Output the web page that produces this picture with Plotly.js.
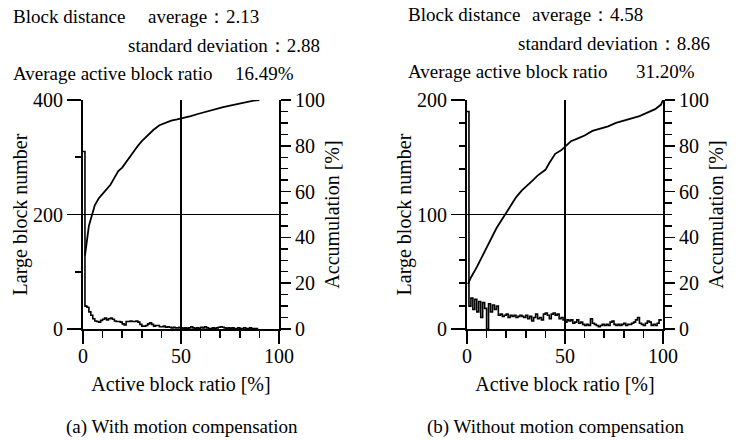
<!DOCTYPE html>
<html>
<head>
<meta charset="utf-8">
<script src="https://cdn.plot.ly/plotly-3.0.1.min.js"></script>
<style>html,body{margin:0;padding:0;background:#fff;}#chart{width:736px;height:440px;}</style>
</head>
<body>
<div id="chart"></div>
<script>
// ---------- data ----------
// (a) With motion compensation: histogram of large blocks per 1% bin of active block ratio
var binsA = [0,1,2,3,4,5,6,7,8,9,10,11,12,13,14,15,16,17,18,19,20,21,22,23,24,25,26,27,28,29,30,31,32,33,34,35,36,37,38,39,40,41,42,43,44,45,46,47,48,49,50,51,52,53,54,55,56,57,58,59,60,61,62,63,64,65,66,67,68,69,70,71,72,73,74,75,76,77,78,79,80,81,82,83,84,85,86,87,88,89];
var countA = [310,40,38,30,24,18,14,13,12,15,17,19,16,18,19,17,14,13,13,12,9,7,13,13,14,13,13,14,12,8,5,5,6,9,11,8,5,6,6,4,4,5,3,4,3,2,3,2,2,3,2,1,2,1,2,4,2,1,2,1,3,2,4,2,1,1,2,1,2,3,4,3,2,1,2,1,2,1,1,2,1,1,2,1,1,2,1,1,1,0];
// (a) accumulation curve [%]
var cumXA = [1,2,3,4,5,6,7,8,10,12,14,16,18,20,22,24,26,28,30,33,36,39,42,45,48,51,55,59,63,67,71,75,79,83,87,90];
var cumYA = [32,40,45,48,51,54,55.5,57,59,61,63,66,69,70.5,73,75.5,77.5,80,82,84.5,87,89,90,91,91.5,92,93,94,95,96,96.8,97.5,98.3,99,99.7,100];

// (b) Without motion compensation
var binsB = [0,1,2,3,4,5,6,7,8,9,10,11,12,13,14,15,16,17,18,19,20,21,22,23,24,25,26,27,28,29,30,31,32,33,34,35,36,37,38,39,40,41,42,43,44,45,46,47,48,49,50,51,52,53,54,55,56,57,58,59,60,61,62,63,64,65,66,67,68,69,70,71,72,73,74,75,76,77,78,79,80,81,82,83,84,85,86,87,88,89,90,91,92,93,94,95,96,97,98,99];
var countB = [190,20,27,17,26,15,24,10,23,18,0,22,15,21,17,20,12,13,11,12,13,10,12,11,12,10,11,12,11,10,12,9,11,7,10,13,9,10,8,13,14,12,9,13,14,12,13,9,10,8,6,8,7,8,5,6,8,5,6,4,3,4,3,9,5,4,3,2,3,4,3,4,3,6,7,4,3,4,3,4,5,3,4,4,5,6,8,10,5,4,3,5,7,6,3,4,3,5,8,7];
var cumXB = [0.5,2,5,8,10,13,15,18,20,22,25,28,30,33,36,40,42,45,48,50,53,56,60,64,68,72,76,80,84,88,92,96,99,100];
var cumYB = [19.6,22.5,27,32,35.5,40.5,44,48,50.8,53.5,57.5,60.5,62,64.5,67,69.5,72.5,76.5,78,79.5,82,83,84.5,86.5,87.5,88.5,90,91,92,93,94.5,96,98,100];

// axis tick labels
var xTicks = [0,50,100];
var yTicksA = [0,200,400];
var yTicksB = [0,100,200];
var accTicks = [0,20,40,60,80,100];

// header texts
var headA = {dist:'Block distance', avg:'average\uFF1A2.13', sd:'standard deviation\uFF1A2.88', ratioLabel:'Average active block ratio', ratio:'16.49%'};
var headB = {dist:'Block distance', avg:'average\uFF1A4.58', sd:'standard deviation\uFF1A8.86', ratioLabel:'Average active block ratio', ratio:'31.20%'};
var captions = ['(a) With motion compensation', '(b) Without motion compensation'];

// ---------- drawing ----------
var W = 736, H = 440;
var FONT = '"Liberation Serif", "Times New Roman", "DejaVu Serif", serif';
function px(x){ return x / W; }
function py(y){ return 1 - y / H; }

var traces = [
  {x: binsA, y: countA, xaxis:'x', yaxis:'y', type:'scatter', mode:'lines', line:{shape:'hv', color:'#000', width:1.6}, hoverinfo:'skip'},
  {x: cumXA, y: cumYA, xaxis:'x', yaxis:'y2', type:'scatter', mode:'lines', line:{color:'#000', width:1.8}, hoverinfo:'skip'},
  {x: binsB, y: countB, xaxis:'x2', yaxis:'y3', type:'scatter', mode:'lines', line:{shape:'hv', color:'#000', width:1.6}, hoverinfo:'skip'},
  {x: cumXB, y: cumYB, xaxis:'x2', yaxis:'y4', type:'scatter', mode:'lines', line:{color:'#000', width:1.8}, hoverinfo:'skip'}
];

var tickFont = {family: FONT, size: 20, color: '#000'};
var titleFont = {family: FONT, size: 20, color: '#000'};

function xAxis(domain, anchor){
  return {
    domain: domain, anchor: anchor, range: [0, 100], fixedrange: true,
    showline: true, linecolor: '#000', linewidth: 2,
    ticks: 'outside', ticklen: 13, tickwidth: 1.6, tickcolor: '#000',
    tickmode: 'array', tickvals: xTicks, ticktext: xTicks.map(String),
    ticklabelstandoff: -5,
    showgrid: true, gridcolor: '#000', gridwidth: 1.5, zeroline: false,
    minor: {dtick: 10, tick0: 0, ticks: 'outside', ticklen: 7, tickwidth: 1.6, tickcolor: '#000', showgrid: false},
    tickfont: tickFont,
    title: {text: 'Active block ratio [%]', font: titleFont, standoff: 11}
  };
}
function yAxis(domain, anchor, range, vals, minorStep){
  return {
    domain: domain, anchor: anchor, range: range, fixedrange: true,
    showline: true, linecolor: '#000', linewidth: 2,
    ticks: 'outside', ticklen: 14, tickwidth: 1.6, tickcolor: '#000',
    tickmode: 'array', tickvals: vals, ticktext: vals.map(String),
    showgrid: true, gridcolor: '#000', gridwidth: 1.5, zeroline: false,
    minor: {dtick: minorStep, tick0: 0, ticks: 'outside', ticklen: 6, tickwidth: 1.6, tickcolor: '#000', showgrid: false},
    tickfont: tickFont,
    title: {text: 'Large block number', font: titleFont, standoff: 0}
  };
}
function accAxis(overlay, anchor){
  return {
    overlaying: overlay, anchor: anchor, side: 'right', range: [0, 100], fixedrange: true,
    showline: true, linecolor: '#000', linewidth: 2,
    ticks: 'outside', ticklen: 10, tickwidth: 1.6, tickcolor: '#000',
    tickmode: 'array', tickvals: accTicks, ticktext: accTicks.map(String),
    showgrid: false, zeroline: false,
    minor: {dtick: 5, tick0: 0, ticks: 'outside', ticklen: 7, tickwidth: 1.4, tickcolor: '#000', showgrid: false},
    tickfont: tickFont,
    title: {text: 'Accumulation [%]', font: titleFont, standoff: 1}
  };
}

var yDom = [py(329), py(100)];
var layout = {
  width: W, height: H,
  margin: {l: 0, r: 0, t: 0, b: 0},
  paper_bgcolor: '#fff', plot_bgcolor: 'rgba(0,0,0,0)',
  showlegend: false,
  font: {family: FONT, color: '#000'},
  xaxis: xAxis([px(83), px(279)], 'y'),
  yaxis: yAxis(yDom, 'x', [0, 400], yTicksA, 100),
  yaxis2: accAxis('y', 'x'),
  xaxis2: xAxis([px(467), px(663)], 'y3'),
  yaxis3: yAxis(yDom, 'x2', [0, 200], yTicksB, 20),
  yaxis4: accAxis('y3', 'x2'),
  annotations: []
};

function ann(text, x, y, anchor){
  layout.annotations.push({text: text, x: px(x), y: py(y), xref: 'paper', yref: 'paper',
    xanchor: anchor, yanchor: 'middle', showarrow: false, font: {family: FONT, size: 19, color: '#000'}});
}
ann(headA.dist, 11, 16, 'left');
ann(headA.avg, 146, 16, 'left');
ann(headA.sd, 126, 46, 'left');
ann(headA.ratioLabel, 11, 73, 'left');
ann(headA.ratio, 233, 73, 'left');
ann(headB.dist, 406, 14, 'left');
ann(headB.avg, 530, 14, 'left');
ann(headB.sd, 516, 43, 'left');
ann(headB.ratioLabel, 406, 71, 'left');
ann(headB.ratio, 634, 71, 'left');
ann(captions[0], 182, 427, 'center');
ann(captions[1], 555, 427, 'center');

Plotly.newPlot('chart', traces, layout, {displayModeBar: false, staticPlot: true});
</script>
</body>
</html>
